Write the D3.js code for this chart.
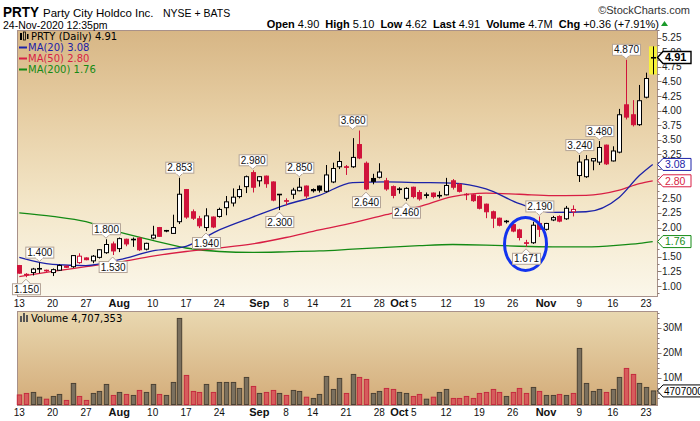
<!DOCTYPE html>
<html><head><meta charset="utf-8">
<script src="https://cdn.jsdelivr.net/npm/d3@7/dist/d3.min.js"></script>
<style>body{margin:0;background:#fff;}svg{display:block;font-family:"Liberation Sans",Arial,sans-serif;}</style>
</head><body><svg id="c" width="700" height="421"></svg>
<script>
// ---------- DATA ----------
const dates = ["07-13","07-14","07-15","07-16","07-17","07-20","07-21","07-22","07-23","07-24","07-27","07-28","07-29","07-30","07-31",
"08-03","08-04","08-05","08-06","08-07","08-10","08-11","08-12","08-13","08-14","08-17","08-18","08-19","08-20","08-21","08-24","08-25","08-26","08-27","08-28","08-31",
"09-01","09-02","09-03","09-04","09-08","09-09","09-10","09-11","09-14","09-15","09-16","09-17","09-18","09-21","09-22","09-23","09-24","09-25","09-28","09-29","09-30",
"10-01","10-02","10-05","10-06","10-07","10-08","10-09","10-12","10-13","10-14","10-15","10-16","10-19","10-20","10-21","10-22","10-23","10-26","10-27","10-28","10-29","10-30",
"11-02","11-03","11-04","11-05","11-06","11-09","11-10","11-11","11-12","11-13","11-16","11-17","11-18","11-19","11-20","11-23","11-24"];
const opens = [1.35,1.20,1.23,1.29,1.27,1.23,1.27,1.34,1.33,1.40,1.48,1.43,1.49,1.57,1.72,
1.64,1.80,1.79,1.82,1.63,1.82,2.00,1.95,1.90,2.10,2.65,2.27,2.15,2.00,2.18,2.19,2.34,2.42,2.53,2.70,2.94,
2.80,2.88,2.78,2.57,2.46,2.57,2.63,2.71,2.65,2.71,2.62,2.78,3.04,3.04,3.04,3.42,3.10,2.84,2.86,2.80,2.70,
2.66,2.50,2.69,2.60,2.56,2.59,2.55,2.56,2.80,2.74,2.57,2.56,2.53,2.40,2.27,2.16,2.11,2.05,1.96,1.74,1.74,2.07,
1.97,2.13,2.19,2.15,2.27,2.89,2.87,3.14,3.12,3.41,3.14,3.29,4.10,3.93,3.76,4.23,4.90];
const highs = [1.36,1.22,1.31,1.40,1.28,1.30,1.37,1.35,1.53,1.56,1.49,1.53,1.63,1.80,1.76,
1.83,1.81,1.83,1.84,1.74,2.03,2.01,1.96,2.22,2.853,2.66,2.31,2.20,2.33,2.19,2.34,2.54,2.67,2.72,2.89,2.98,
2.88,2.89,2.79,2.57,2.50,2.68,2.85,2.72,2.67,2.72,3.07,3.11,3.30,3.07,3.53,3.66,3.13,2.92,3.10,2.85,2.72,
2.69,2.69,2.70,2.64,2.60,2.60,2.62,2.85,2.83,2.76,2.59,2.57,2.55,2.41,2.29,2.17,2.13,2.07,1.98,1.79,2.10,2.19,
2.08,2.20,2.21,2.37,2.38,3.24,3.24,3.19,3.48,3.42,3.39,4.03,4.87,4.18,4.44,4.65,5.10];
const lows = [1.21,1.15,1.18,1.22,1.24,1.17,1.26,1.31,1.31,1.38,1.44,1.39,1.47,1.55,1.53,
1.58,1.68,1.67,1.60,1.61,1.80,1.84,1.92,1.89,2.06,2.15,2.13,1.99,1.94,1.99,2.17,2.21,2.36,2.50,2.59,2.60,
2.70,2.68,2.45,2.30,2.38,2.49,2.62,2.50,2.60,2.60,2.60,2.76,3.00,2.90,3.02,3.17,2.64,2.74,2.84,2.63,2.50,
2.58,2.46,2.50,2.46,2.50,2.50,2.50,2.55,2.65,2.60,2.47,2.44,2.31,2.16,1.99,2.02,2.07,1.92,1.78,1.671,1.72,1.84,
1.95,2.11,2.09,2.13,2.19,2.78,2.85,2.98,3.07,3.07,3.13,3.27,3.85,3.73,3.74,4.21,4.62];
const closes = [1.22,1.19,1.29,1.30,1.26,1.28,1.35,1.32,1.52,1.51,1.45,1.51,1.62,1.71,1.60,
1.81,1.72,1.80,1.62,1.73,1.87,1.85,1.94,2.00,2.57,2.18,2.16,2.03,2.20,2.01,2.31,2.44,2.52,2.65,2.87,2.69,
2.87,2.75,2.47,2.56,2.45,2.64,2.69,2.54,2.63,2.64,2.90,3.01,3.13,3.03,3.20,3.19,2.66,2.79,2.95,2.66,2.55,
2.65,2.67,2.53,2.49,2.55,2.53,2.54,2.72,2.69,2.62,2.56,2.46,2.33,2.27,2.16,2.04,2.10,1.94,1.83,1.73,2.04,1.97,
2.07,2.17,2.11,2.33,2.31,3.12,3.16,3.18,3.37,3.09,3.31,3.93,3.89,3.76,4.17,4.55,4.91];
const volumes = [3.1,3.7,4.1,2.2,1.4,2.5,3.3,0.9,7.7,2.5,0.9,3.7,4.5,7.3,2.9,
4.1,3.3,2.9,4.9,4.1,7.3,3.3,2.9,8.1,33.7,10.9,4.5,4.1,7.3,4.1,8.1,8.1,8.1,5.7,10.1,6.5,
3.7,4.1,4.9,3.7,2.9,4.9,4.5,2.2,1.7,3.3,10.5,5.3,9.7,3.7,11.3,10.1,9.3,3.7,4.5,5.7,5.3,
4.1,3.7,2.5,3.3,1.4,2.2,4.1,5.3,1.7,1.7,2.5,1.7,3.7,4.1,5.3,4.1,2.5,4.1,5.7,3.7,6.1,4.5,
2.9,2.9,3.3,2.9,3.7,21.7,7.7,4.5,5.3,4.1,5.3,10.1,13.7,11.3,7.7,6.1,4.707]; // millions
const priorClose = 1.40;

const maDates = ["07-13","07-20","07-27","08-03","08-10","08-17","08-24","08-31","09-08","09-15","09-22","09-29","10-06","10-13","10-20","10-27","11-03","11-10","11-17","11-20","11-24"];
const ma20  = [1.49,1.37,1.35,1.45,1.60,1.68,1.96,2.18,2.39,2.55,2.77,2.78,2.77,2.76,2.66,2.41,2.26,2.27,2.52,2.89,3.08];
const ma50  = [1.16,1.25,1.33,1.41,1.51,1.59,1.65,1.72,1.83,1.96,2.08,2.22,2.36,2.53,2.59,2.57,2.545,2.55,2.64,2.75,2.80];
const ma200 = [2.25,2.19,2.10,1.92,1.78,1.65,1.59,1.575,1.585,1.60,1.63,1.66,1.69,1.71,1.70,1.68,1.67,1.67,1.70,1.73,1.76];

const tickDates  = ["07-13","07-20","07-27","08-03","08-10","08-17","08-24","09-01","09-08","09-14","09-21","09-28","10-01","10-05","10-12","10-19","10-26","11-02","11-09","11-16","11-23"];
const tickLabels = ["13","20","27","Aug","10","17","24","Sep","8","14","21","28","Oct","5","12","19","26","Nov","9","16","23"];
const priceTicks = [1.00,1.25,1.50,2.00,2.25,2.50,3.25,3.50,3.75,4.00,4.25,4.50,4.75,5.00,5.25]; // 1.75, 2.75, 3.00 sit under the value boxes
const volTicks = [10,20,30];
const volTickLabels = ["10M","20M","30M"];

const hiLabelDates = ["07-16","07-30","08-14","08-31","09-10","09-22","10-30","11-09","11-12","11-18"];
const hiLabelVals  = [1.400,1.800,2.853,2.980,2.850,3.660,2.190,3.240,3.480,4.870];
const loLabelDates = ["07-14","07-31","08-20","09-04","09-24","10-02","10-28"];
const loLabelVals  = [1.150,1.530,1.940,2.300,2.640,2.460,1.671];

const lastVals = [4.91, 3.08, 2.80, 1.76];

// ---------- LAYOUT ----------
const svg = d3.select("#c");
const P = {l:17, r:657, t:30, b:296};
const V = {t:311, b:405};
const RED = "#d0133b";
const x = d3.scalePoint().domain(dates).range([19.3, 652.7]);
const y = d3.scaleLinear().domain([1, 5.25]).range([286, 37.6]);
const yv = d3.scaleLinear().domain([0, 30]).range([402.7, 327.7]);

const defs = svg.append("defs");
const g1 = defs.append("linearGradient").attr("id","pg").attr("x1",0).attr("y1",0).attr("x2",0).attr("y2",1);
[[0,"#d7b685"],[0.3,"#e6cda2"],[0.65,"#f3e6c8"],[1,"#fbf7ea"]].forEach(s=>g1.append("stop").attr("offset",s[0]).attr("stop-color",s[1]));
const g2 = defs.append("linearGradient").attr("id","vg").attr("x1",0).attr("y1",0).attr("x2",0).attr("y2",1);
[[0,"#e9d8b0"],[1,"#d3ab78"]].forEach(s=>g2.append("stop").attr("offset",s[0]).attr("stop-color",s[1]));
defs.append("clipPath").attr("id","pc").append("rect").attr("x",P.l).attr("y",P.t).attr("width",P.r-P.l).attr("height",P.b-P.t);

svg.append("rect").attr("x",P.l+0.5).attr("y",P.t+0.5).attr("width",P.r-P.l).attr("height",P.b-P.t).attr("fill","url(#pg)").attr("stroke","#a8918a");
svg.append("rect").attr("x",P.l+0.5).attr("y",V.t+0.5).attr("width",P.r-P.l).attr("height",V.b-V.t).attr("fill","url(#vg)").attr("stroke","#a8918a");

// ---------- HEADER ----------
const hdr = svg.append("g").attr("fill","#000");
hdr.append("text").attr("x",3).attr("y",16.5).attr("font-size",15.5).attr("font-weight","bold").attr("textLength",36).attr("lengthAdjust","spacingAndGlyphs").text("PRTY");
hdr.append("text").attr("x",43).attr("y",16.5).attr("font-size",11.5).text("Party City Holdco Inc.");
hdr.append("text").attr("x",163).attr("y",16.5).attr("font-size",10.5).text("NYSE + BATS");
hdr.append("text").attr("x",690).attr("y",14).attr("font-size",11).attr("text-anchor","end").attr("fill","#333").text("\u00A9StockCharts.com");
hdr.append("text").attr("x",3).attr("y",28.5).attr("font-size",10.5).text("24-Nov-2020 12:35pm");
const st = hdr.append("text").attr("x",659).attr("y",28).attr("font-size",11).attr("text-anchor","end");
[["Open"," 4.90  "],["High"," 5.10  "],["Low"," 4.62  "],["Last"," 4.91  "],["Volume"," 4.7M  "],["Chg"," +0.36 (+7.91%)"]].forEach(p=>{
  st.append("tspan").attr("font-weight","bold").text(p[0]);
  st.append("tspan").attr("xml:space","preserve").text(p[1]);
});
hdr.append("path").attr("d","M661,26 L668,26 L664.5,21 Z").attr("fill","#1a9a2a");

// ---------- PRICE PANEL ----------
const pp = svg.append("g").attr("clip-path","url(#pc)");
const data = dates.map((d,i)=>({d,o:opens[i],h:highs[i],l:lows[i],c:closes[i],v:volumes[i],pc:i?closes[i-1]:priorClose}));
const last = data[data.length-1];
pp.append("rect").attr("x",Math.round(x(last.d))-4).attr("width",8)
  .attr("y",y(last.h)).attr("height",y(last.l)-y(last.h)).attr("fill","#f7f23a");

const maData = (arr)=>maDates.map((d,i)=>({d,v:arr[i]}));
const line = d3.line().x(p=>x(p.d)).y(p=>y(p.v)).curve(d3.curveMonotoneX);
[[ma200,"#148a14"],[ma50,"#d81e44"],[ma20,"#1c22a8"]].forEach(m=>{
  pp.append("path").attr("d",line(maData(m[0]))).attr("fill","none").attr("stroke",m[1]).attr("stroke-width",1.3);
});

const cg = pp.append("g");
data.forEach(k=>{
  const xc = Math.round(x(k.d))+0.5;
  const col = k.c < k.pc ? RED : "#000";
  const filled = k.c < k.o;
  cg.append("line").attr("x1",xc).attr("x2",xc).attr("y1",y(k.h)).attr("y2",y(k.l)).attr("stroke",col).attr("stroke-width",1);
  const top = y(Math.max(k.o,k.c)), bot = y(Math.min(k.o,k.c));
  const h = Math.max(0.6, bot-top);
  cg.append("rect").attr("x",xc-2).attr("width",4).attr("y",top).attr("height",h)
    .attr("fill",filled?col:"#fff").attr("stroke",col).attr("stroke-width",1);
});

svg.append("ellipse").attr("cx",x("10-28")-0.5).attr("cy",y(1.72)).attr("rx",21).attr("ry",26.5)
  .attr("fill","none").attr("stroke","#1233ee").attr("stroke-width",3);

function valLabel(dt, v, isHigh){
  const cx = x(dt), py = y(v), w = 28, hh = 11;
  const g = svg.append("g");
  let by, tri;
  if(isHigh){ by = py-5-hh; tri = `M${cx-4},${by+hh} L${cx},${by+hh+4} L${cx+4},${by+hh}`; }
  else { by = py+6; tri = `M${cx-4},${by} L${cx},${by-4} L${cx+4},${by}`; }
  g.append("rect").attr("x",cx-w/2+0.5).attr("y",by+0.5).attr("width",w).attr("height",hh).attr("fill","#fff").attr("stroke","#b4a496");
  g.append("path").attr("d",tri).attr("fill","#fff").attr("stroke","#b4a496");
  g.append("rect").attr("x",cx-3.5).attr("y",isHigh?by+hh-1:by).attr("width",7).attr("height",2).attr("fill","#fff");
  g.append("text").attr("x",cx+0.5).attr("y",by+hh-1.5).attr("text-anchor","middle").attr("font-size",10).attr("fill","#111").text(v.toFixed(3));
}
hiLabelDates.forEach((d,i)=>valLabel(d,hiLabelVals[i],true));
loLabelDates.forEach((d,i)=>valLabel(d,loLabelVals[i],false));

const lg = svg.append("g").attr("font-family","DejaVu Sans, Verdana, sans-serif").attr("font-size",10);
lg.append("rect").attr("x",20).attr("y",33).attr("width",2).attr("height",7).attr("fill","#000");
lg.append("rect").attr("x",23.5).attr("y",32).attr("width",2).attr("height",8).attr("fill","none").attr("stroke","#000").attr("stroke-width",0.8);
lg.append("rect").attr("x",27).attr("y",34).attr("width",1.5).attr("height",5).attr("fill","#000");
lg.append("text").attr("x",31).attr("y",40).attr("fill","#000").text("PRTY (Daily) 4.91");
[["MA(20) 3.08","#1c22a8",51],["MA(50) 2.80","#d81e44",62],["MA(200) 1.76","#148a14",73]].forEach(m=>{
  lg.append("rect").attr("x",19).attr("y",m[2]-4.5).attr("width",8).attr("height",2).attr("fill",m[1]);
  lg.append("text").attr("x",28).attr("y",m[2]).attr("fill",m[1]).text(m[0]);
});

const ax = svg.append("g").attr("font-size",10).attr("fill","#222");
d3.range(0.875, 5.38, 0.125).forEach(v=>{
  const yy = Math.round(y(v))+0.5;
  const major = Math.abs(v*4-Math.round(v*4))<1e-6;
  ax.append("line").attr("x1",P.r+0.5).attr("x2",P.r+(major?4.5:2.5)).attr("y1",yy).attr("y2",yy).attr("stroke","#8a7a70");
});
priceTicks.forEach(v=>{
  ax.append("text").attr("x",662).attr("y",y(v)+3.5).text(v.toFixed(2));
});
function valBox(v, col, bold, ycen){
  const yy = ycen, g = svg.append("g");
  g.append("path").attr("d",`M${P.r+0.5},${yy} L${P.r+6},${yy-6} L691,${yy-6} L691,${yy+6} L${P.r+6},${yy+6} Z`)
   .attr("fill","#fff").attr("stroke",col).attr("stroke-width",bold?1.4:1);
  g.append("text").attr("x",665).attr("y",yy+3.8).attr("font-size",bold?11:10.5).attr("font-weight",bold?"bold":"normal").attr("fill",col).text(v.toFixed(2));
}
valBox(lastVals[0],"#000",true,y(lastVals[0]));
valBox(lastVals[1],"#1c22a8",false,y(lastVals[1]));
valBox(lastVals[2],"#d81e44",false,y(lastVals[2]));
valBox(lastVals[3],"#148a14",false,y(lastVals[3]));

// ---------- VOLUME ----------
const vg = svg.append("g");
data.forEach(k=>{
  const xc = Math.round(x(k.d))+0.5;
  const red = k.c < k.pc;
  vg.append("rect").attr("x",xc-2.2).attr("width",4.4).attr("y",yv(k.v)).attr("height",V.b-0.5-yv(k.v))
    .attr("fill",red?"#d65c5c":"#7a705f").attr("stroke",red?"#c52a3e":"#4a4134").attr("stroke-width",1);
});
const vl = svg.append("g").attr("font-family","DejaVu Sans, Verdana, sans-serif").attr("font-size",10);
vl.append("rect").attr("x",20).attr("y",316).attr("width",2).attr("height",6).attr("fill","#555");
vl.append("rect").attr("x",23).attr("y",313).attr("width",2).attr("height",9).attr("fill","#555");
vl.append("rect").attr("x",26).attr("y",315).attr("width",2).attr("height",7).attr("fill","#555");
vl.append("text").attr("x",31).attr("y",322).attr("fill","#000").text("Volume 4,707,353");
d3.range(2,38,2).forEach(v=>{
  const yy = Math.round(yv(v))+0.5; if(yy<V.t+2) return;
  const major = v%10===0;
  svg.append("line").attr("x1",P.r+0.5).attr("x2",P.r+(major?4.5:2.5)).attr("y1",yy).attr("y2",yy).attr("stroke","#8a7a70");
});
volTicks.forEach((v,i)=>{
  svg.append("text").attr("x",663).attr("y",yv(v)+3.5).attr("font-size",10).attr("fill","#222").text(volTickLabels[i]);
});
{
  const yy = yv(last.v);
  svg.append("path").attr("d",`M${P.r+0.5},${yy} L${P.r+6},${yy-6} L702,${yy-6} L702,${yy+6} L${P.r+6},${yy+6} Z`).attr("fill","#fff").attr("stroke","#000");
  svg.append("text").attr("x",664).attr("y",yy+3.6).attr("font-size",10).attr("fill","#000").text(Math.round(last.v*1e6).toString());
}

// ---------- X AXES ----------
[307, 416].forEach(by=>{
  tickDates.forEach((d,i)=>{
    const lab = tickLabels[i];
    const bold = isNaN(+lab);
    svg.append("text").attr("x",x(d)+(lab==="5"?1:0)).attr("y",by).attr("text-anchor","middle")
      .attr("font-size",bold?11:10).attr("font-weight",bold?"bold":"normal").attr("fill","#111").text(lab);
  });
});
</script></body></html>
